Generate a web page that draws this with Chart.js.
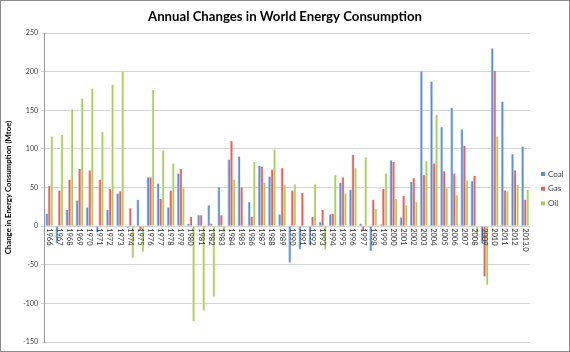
<!DOCTYPE html>
<html>
<head>
<meta charset="utf-8">
<script src="https://cdn.jsdelivr.net/npm/chart.js@4.4.1/dist/chart.umd.min.js"></script>
<style>
  html, body { margin: 0; padding: 0; background: #fff; }
  #wrap { position: relative; width: 570px; height: 352px; }
  #frame { position: absolute; inset: 0; border: 1px solid #8a8a8a; pointer-events: none; }
</style>
</head>
<body>
<div id="wrap">
  <canvas id="chart"></canvas>
  <div id="frame"></div>
</div>
<script>
const years = [
  "1966", "1967", "1968", "1969", "1970", "1971", "1972", "1973", "1974", "1975",
  "1976", "1977", "1978", "1979", "1980", "1981", "1982", "1983", "1984", "1985",
  "1986", "1987", "1988", "1989", "1990", "1991", "1992", "1993", "1994", "1995",
  "1996", "1997", "1998", "1999", "2000", "2001", "2002", "2003", "2004", "2005",
  "2006", "2007", "2008", "2009", "2010", "2011", "2012", "2013.0",
];

// Mtoe
const coal = [
  16, -22, 21, 33, 24, -8, 21, 42, -2, 34,
  63, 55, 24, 68, 3, 14, 27, 50, 86, 90,
  31, 78, 64, 15, -47, -30, -24, 5, 15, 56,
  47, 3, -32, 2, 85, 11, 57, 200, 187, 128,
  153, 125, 58, -22, 230, 161, 93, 103,
];
const gas = [
  52, 46, 60, 74, 72, 60, 48, 45, 23, -5,
  63, 35, 46, 74, 12, 14, 3, 14, 110, 50,
  12, 77, 73, 75, 46, 43, 12, 21, 16, 63,
  92, -6, 34, 48, 83, 39, 62, 66, 81, 71,
  68, 104, 65, -65, 201, 46, 72, 34,
];
const oil = [
  116, 118, 151, 165, 178, 122, 183, 200, -41, -33,
  176, 98, 81, 49, -123, -109, -91, -8, 60, 1,
  83, 56, 99, 53, 54, 0, 54, -30, 66, 42,
  75, 89, 22, 68, 35, 27, 31, 84, 144, 49,
  40, 59, -10, -76, 116, 45, 53, 47,
];

const CAT_PCT = 0.74;
const BAR_PCT = 0.95;
const FONT = "Lato, 'Open Sans', sans-serif";

// horizontal light-to-dark fill across each bar, like the Excel gradient style
function barFill(light, dark) {
  return (c) => {
    const chart = c.chart;
    const x = chart.scales && chart.scales.x;
    if (!x || c.type !== "data" || !x.width) return dark;
    const cw = x.width / years.length;
    const group = cw * CAT_PCT;
    const slot = group / 3;
    const cx = x.getPixelForValue(c.dataIndex) - group / 2 + slot * (c.datasetIndex + 0.5);
    const bw = slot * BAR_PCT;
    const g = chart.ctx.createLinearGradient(cx - bw / 2, 0, cx + bw / 2, 0);
    g.addColorStop(0, light);
    g.addColorStop(0.55, dark);
    g.addColorStop(1, dark);
    return g;
  };
}

const series = [
  { label: "Coal", data: coal, light: "#bcd4f6", dark: "#5a8ed6" },
  { label: "Gas", data: gas, light: "#f9bcba", dark: "#e6605c" },
  { label: "Oil", data: oil, light: "#ebf8c8", dark: "#a8cd5c" },
];

const decorations = {
  id: "decorations",
  afterDatasetsDraw(chart) {
    const { ctx, scales: { x, y } } = chart;
    const y0 = y.getPixelForValue(0);
    ctx.save();
    ctx.font = "7.5px " + FONT;
    ctx.fillStyle = "#333";
    ctx.textAlign = "left";
    ctx.textBaseline = "middle";
    years.forEach((lab, i) => {
      ctx.save();
      ctx.translate(x.getPixelForValue(i), y0 + 2);
      ctx.rotate(Math.PI / 2);
      ctx.fillText(lab, 0, 0);
      ctx.restore();
    });
    ctx.restore();
  },
  afterDraw(chart) {
    const { ctx } = chart;
    ctx.save();
    // title
    ctx.font = "bold 13.2px " + FONT;
    ctx.fillStyle = "#000";
    ctx.textAlign = "center";
    ctx.textBaseline = "middle";
    ctx.fillText("Annual Changes in World Energy Consumption", 285, 17);
    // legend
    ctx.font = "8px " + FONT;
    ctx.textAlign = "left";
    chart.data.datasets.forEach((ds, i) => {
      const yy = 174 + i * 14.7;
      ctx.fillStyle = series[i].dark;
      ctx.fillRect(541, yy - 2, 4, 4);
      ctx.fillStyle = "#404040";
      ctx.fillText(ds.label, 548, yy);
    });
    ctx.restore();
  },
};

new Chart(document.getElementById("chart"), {
  type: "bar",
  data: {
    labels: years,
    datasets: series.map((s) => ({
      label: s.label,
      data: s.data,
      backgroundColor: barFill(s.light, s.dark),
      borderWidth: 0,
      categoryPercentage: CAT_PCT,
      barPercentage: BAR_PCT,
    })),
  },
  options: {
    responsive: true,
    maintainAspectRatio: false,
    animation: false,
    layout: { padding: { left: 0, right: 40, top: 33, bottom: 10 } },
    plugins: {
      legend: { display: false },
      tooltip: { enabled: false },
    },
    scales: {
      x: {
        display: false,
      },
      y: {
        min: -150,
        max: 250,
        afterFit: (s) => { s.width = 44; },
        border: { display: true, color: "#9a9a9a" },
        grid: { color: "#d4d4d4", tickLength: 3 },
        ticks: {
          stepSize: 50,
          color: "#404040",
          padding: 3,
          font: { family: FONT, size: 7 },
        },
        title: {
          display: true,
          text: "Change in Energy Consumption (Mtoe)",
          color: "#000",
          padding: { top: 4, bottom: 2 },
          font: { family: FONT, size: 7.8, weight: "bold" },
        },
      },
    },
  },
  plugins: [decorations],
});
</script>
</body>
</html>
